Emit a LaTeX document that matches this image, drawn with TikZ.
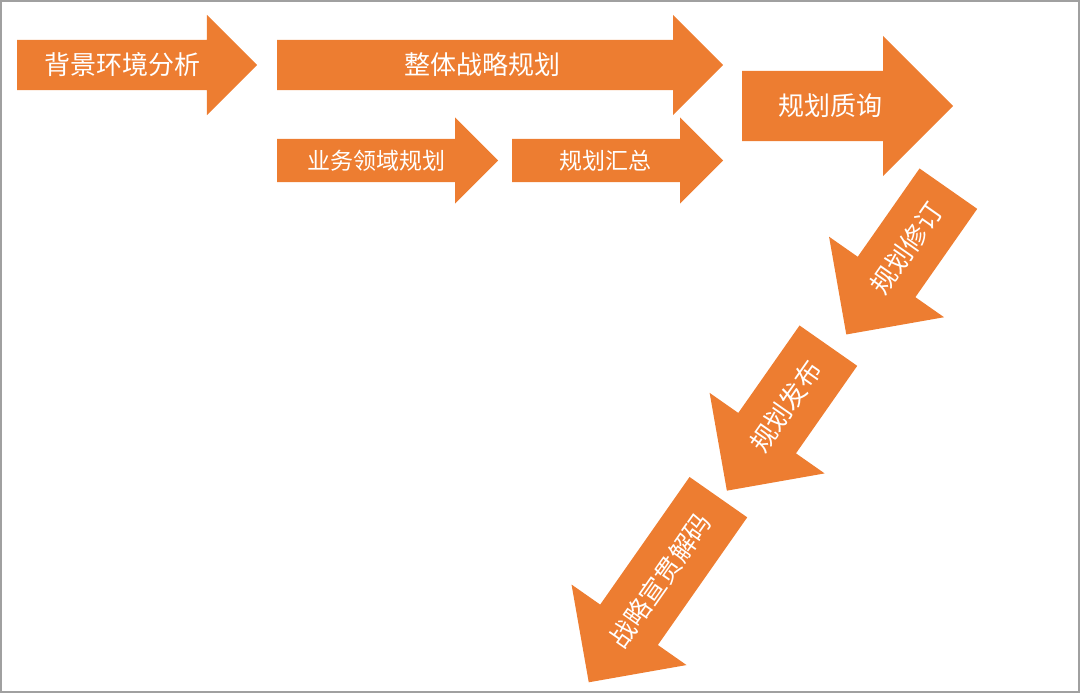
\documentclass[tikz,border=0pt]{standalone}
\usepackage{fontspec}
\setmainfont{Noto Sans CJK SC}
\usetikzlibrary{shapes.arrows,calc}
\definecolor{arrowfill}{HTML}{ED7D31}
\definecolor{framegray}{HTML}{A0A0A0}
\tikzset{blockarrow/.style 2 args={
        single arrow,
        fill=arrowfill,
        inner xsep=0pt,
        inner ysep=#1/2,
        minimum width=0pt,
        single arrow head extend=#1/2,
        minimum height=#2,
        anchor=tail,
    },
    lbl/.style={
        text=white,
        inner sep=0pt,
        font=\fontsize{26}{30}\selectfont,
    },
    smalllbl/.style={lbl, font=\fontsize{23}{27}\selectfont}
}

\begin{document}
\begin{tikzpicture}[x=1pt,y=-1pt]
  \useasboundingbox (0,0) rectangle (1080,693);
  \draw[framegray, line width=2pt] (1,1) rectangle (1079,692);
  % top rows
  \node[blockarrow={50}{240}] (context) at (17,65) {};
  \node[blockarrow={50}{446}] (overall) at (277,65) {};
  \node[blockarrow={43}{221}] (business) at (277,160.5) {};
  \node[blockarrow={43}{211}] (summary) at (512,160.5) {};
  \node[blockarrow={70}{211}] (review) at (742,106) {};
  % going down
  \node[blockarrow={70}{178}, rotate=235] (revise) at (948.5,188.5) {};
  \node[blockarrow={70}{177}, rotate=235] (release) at (828.5,345.5) {};
  \node[blockarrow={70}{226}, rotate=235] (decode) at (718.5,497) {};
  % labels
  \node[lbl] (contextlbl) at ($(context.tail)!0.44!(context.tip)$) {背景环境分析};
  \node[lbl] (overalllbl) at ($(overall.tail)!0.46!(overall.tip)$) {整体战略规划};
  \node[smalllbl] (businesslbl) at ($(business.tail)!0.45!(business.tip)$) {业务领域规划};
  \node[smalllbl] (summarylbl) at ($(summary.tail)!0.44!(summary.tip)$) {规划汇总};
  \node[lbl] (reviewlbl) at ($(review.tail)!0.42!(review.tip)$) {规划质询};
  \node[lbl, rotate=55] (reviselbl) at ($(revise.tail)!0.41!(revise.tip)$) {规划修订};
  \node[lbl, rotate=55] (releaselbl) at ($(release.tail)!0.42!(release.tip)$) {规划发布};
  \node[lbl, rotate=55] (decodelbl) at ($(decode.tail)!0.45!(decode.tip)$) {战略宣贯解码};
\end{tikzpicture}
\end{document}
